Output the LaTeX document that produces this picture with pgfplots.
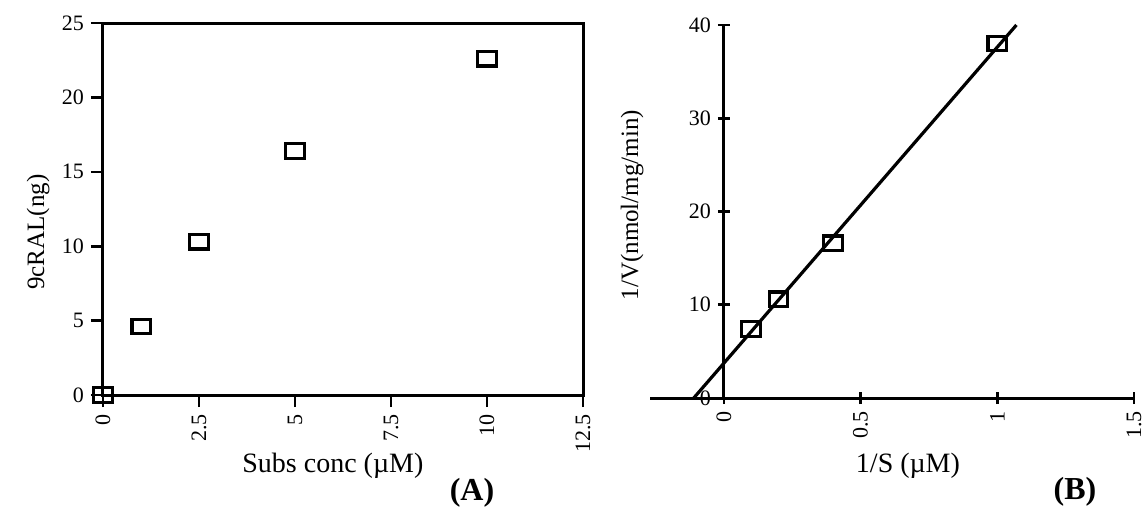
\documentclass[border=0pt]{standalone}
\usepackage{fontspec}
\setmainfont{Liberation Serif}
\usepackage{pgfplots}
\pgfplotsset{compat=1.18}

\pgfplotsset{
  kinetic/.style={
    scale only axis,
    /pgf/number format/assume math mode=true,
    ticklabel style={font=\fontsize{11}{13}\selectfont},
    x tick label style={rotate=90, anchor=east},
    axis line style={line width=1.5pt},
    major tick style={line width=1.3pt, black},
    major tick length=6pt,
    tick align=outside,
    clip=false,
    xlabel style={font=\fontsize{14}{16}\selectfont, anchor=center},
  },
  box/.style={mark=square, mark size=3.6pt, black,
    mark options={xscale=1.3, line width=1.6pt, solid}},
}

\begin{document}
\begin{tikzpicture}
\path[use as bounding box] (0,0) rectangle (572.5pt,260pt);

% (A) substrate curve
\begin{axis}[kinetic,
    at={(51.5pt,62.5pt)}, anchor=south west,
    width=240pt, height=186pt,
    xmin=0, xmax=12.5, ymin=0, ymax=25,
    xtick={0,2.5,5,7.5,10,12.5},
    ytick={0,5,10,15,20,25},
    xtick pos=bottom, ytick pos=left,
    xlabel={Subs conc (µM)},
    ylabel={9cRAL(ng)},
    every axis x label/.append style={at={(axis description cs:0.479,-0.191)}},
    every axis y label/.style={at={(axis description cs:-0.135,0.438)},
      rotate=90, anchor=center, font=\fontsize{12.5}{15}\selectfont},
]
\addplot[box, only marks] coordinates {
  (0,0) (1,4.6) (2.5,10.3) (5,16.4) (10,22.6)
};
\end{axis}
\node[font=\bfseries\fontsize{16}{18}\selectfont] at (236pt,13.5pt) {(A)};

% (B) double reciprocal plot
\begin{axis}[kinetic,
    at={(325pt,61pt)}, anchor=south west,
    width=242pt, height=186.5pt,
    axis x line=bottom, axis y line=middle,
    every outer x axis line/.append style={-},
    every inner x axis line/.append style={-},
    every outer y axis line/.append style={-},
    every inner y axis line/.append style={-},
    x axis line style={-}, y axis line style={-},
    hide obscured x ticks=false, hide obscured y ticks=false,
    xmin=-0.27, xmax=1.5, ymin=0, ymax=40,
    xtick={0,0.5,1,1.5},
    ytick={0,10,20,30,40},
    xlabel={1/S (µM)},
    ylabel={1/V(nmol/mg/min)},
    every axis x label/.append style={at={(axis description cs:0.533,-0.182)}},
    every axis y label/.style={at={(axis description cs:-0.037,0.517)},
      rotate=90, anchor=center, font=\fontsize{12.5}{15}\selectfont},
]
\addplot[black, line width=1.6pt, no marks] coordinates {
  (-0.11,0) (1.07,40)
};
\addplot[box, only marks] coordinates {
  (0.1,7.4) (0.2,10.6) (0.4,16.6) (1,38.0)
};
\end{axis}
\node[font=\bfseries\fontsize{16}{18}\selectfont] at (537.5pt,14pt) {(B)};
\end{tikzpicture}
\end{document}
